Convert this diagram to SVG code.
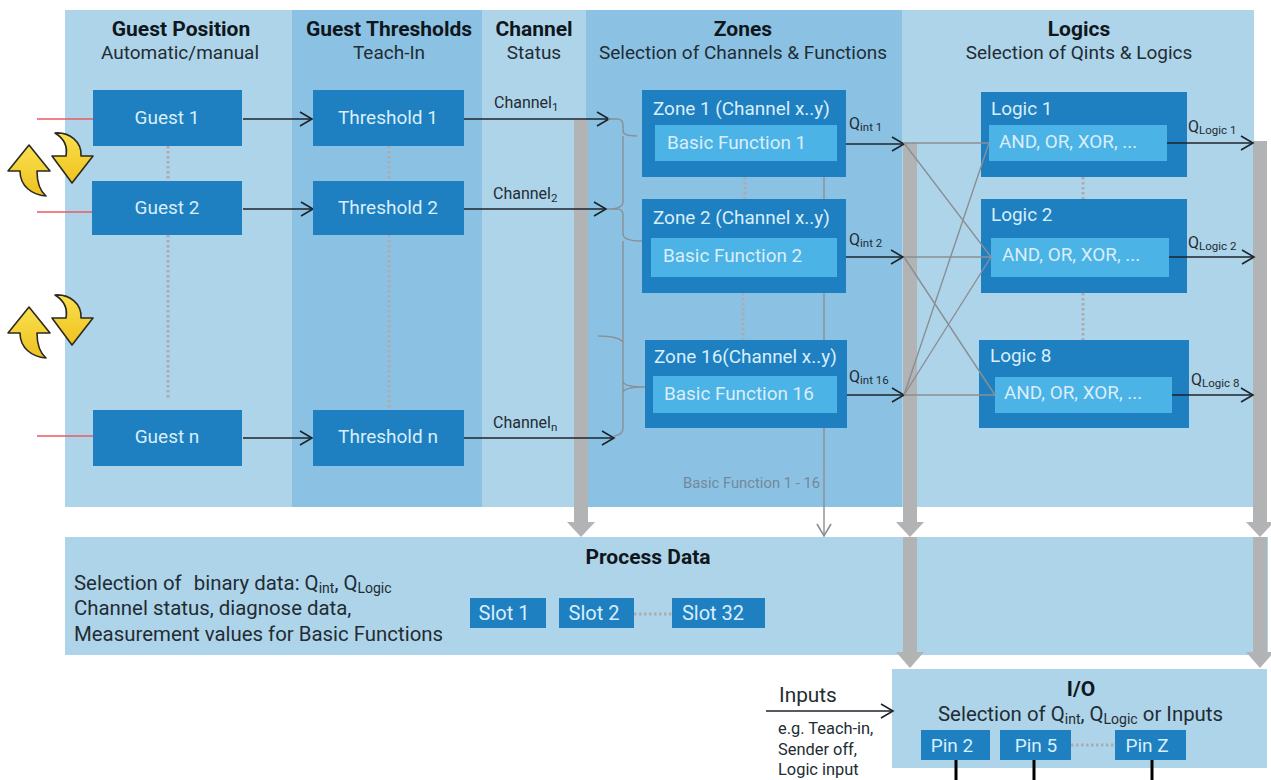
<svg xmlns="http://www.w3.org/2000/svg" xmlns:xlink="http://www.w3.org/1999/xlink" width="1271" height="780" viewBox="0 0 1271 780">
<style>
text{font-family:Roboto,"Open Sans",sans-serif;fill:#222c33}
.h{font-size:21px;font-weight:700;text-anchor:middle;fill:#10171c}
.s{font-size:19px;text-anchor:middle}
.n{fill:#1e80c1}
.i{fill:#4cb3e6}
.l{fill:#aed4ea}
.d{fill:#8bc2e4}
.w{fill:#d9eefa;font-size:18.9px}
.c{fill:#d9eefa;font-size:19px;text-anchor:middle}
.q{font-size:16px}
.sub{font-size:11.5px}
.m{font-size:20.4px}
.e{font-size:16.4px}
.a{fill:none;stroke:#1c242b;stroke-width:1.6;marker-end:url(#ah)}
.g{fill:none;stroke:#8a8f93;stroke-width:1.4}
.o{fill:none;stroke:#a9adb0;stroke-width:3;stroke-dasharray:2.5 2.5}
.r{stroke:#ea5a66;stroke-width:1.4}
.b{fill:#b2b3b4}
.y{fill:url(#yg);stroke:#2a2a22;stroke-width:1.6;stroke-linejoin:round}
.p{stroke:#000;stroke-width:3}
</style>
<defs>
<linearGradient id="yg" x1="0" y1="0" x2="0" y2="1"><stop offset="0" stop-color="#f9e04e"/><stop offset="1" stop-color="#efc21f"/></linearGradient>
<marker id="ah" markerUnits="userSpaceOnUse" markerWidth="16" markerHeight="18" refX="13" refY="9" orient="auto"><path d="M1,2 L13,9 L1,16" fill="none" stroke="#1c242b" stroke-width="1.6"/></marker>
<marker id="ag" markerUnits="userSpaceOnUse" markerWidth="16" markerHeight="18" refX="13" refY="9" orient="auto"><path d="M1,2 L13,9 L1,16" fill="none" stroke="#8a8f93" stroke-width="1.6"/></marker>
<g id="swap">
<path class="y" d="M55,133 C70,132 82,142 81,156 L93,156 L72,183 L52,156 L66,156 C68,146 63,138 55,133 Z"/>
<path class="y" d="M29,145 L50,171 L37,171 C37,182 40,191 46,196 C32,195 20,186 20,171 L8,171 Z"/>
</g>
</defs>
<rect width="1271" height="780" fill="#fff"/>
<g id="panels">
<rect class="l" x="65" y="10" width="228" height="497"/>
<rect class="d" x="292" y="10" width="191" height="497"/>
<rect class="l" x="482" y="10" width="105" height="497"/>
<rect class="d" x="586" y="10" width="317" height="497"/>
<rect class="l" x="902" y="10" width="352" height="497"/>
<rect id="process-data-panel" class="l" x="65" y="537" width="1203" height="118"/>
<rect id="io-panel" class="l" x="892" y="669" width="375" height="99"/>
</g>
<g id="headers">
<text class="h" x="181" y="36">Guest Position</text><text class="s" x="180" y="59">Automatic/manual</text>
<text class="h" x="389" y="36">Guest Thresholds</text><text class="s" x="389" y="59">Teach-In</text>
<text class="h" x="534" y="36">Channel</text><text class="s" x="534" y="59">Status</text>
<text class="h" x="743" y="36">Zones</text><text class="s" x="743" y="59">Selection of Channels &amp; Functions</text>
<text class="h" x="1079" y="36">Logics</text><text class="s" x="1079" y="59">Selection of Qints &amp; Logics</text>
</g>
<g id="bars">
<path class="b" d="M574,120H588V522H595L581,537L567,522H574Z"/>
<path class="b" d="M903,143H917V522H924L910,537L896,522H903Z"/>
<path class="b" d="M903,537H917V652H924L910,668L896,652H903Z"/>
<path class="b" d="M1253,141H1267V522H1274L1260,537L1246,522H1253Z"/>
<path class="b" d="M1253,537H1267V652H1274L1260,668L1246,652H1253Z"/>
</g>
<g id="connectors">
<path class="r" d="M37,119H94M37,212H93M37,436H94"/>
<path class="o" d="M168,146V181M168,235V399M389,146V181M389,235V410M745,177V199M743,293V340M1083,177V199M1083,293V340M634,614H672M1071,745H1115"/>
<path class="a" d="M243,119H312"/><path class="a" d="M243,209H313"/><path class="a" d="M243,438H312"/>
<path class="a" d="M464,119H609"/><path class="a" d="M464,209H606"/><path class="a" d="M464,438H614"/>
<path class="a" d="M837,144H904"/><path class="a" d="M837,257H903"/><path class="a" d="M837,395H904"/>
<path class="a" d="M766,711H893"/>
<path class="g" d="M608,119H617Q623,119 623,125V131Q623,136 637,136M623,136V202Q623,209 607,209M607,209H617Q623,209 623,215V234Q623,241 642,241M623,241V428Q623,435 614,436M598,336Q618,336 623,342M623,381Q623,387 645,387Q623,387 623,393"/>
<path d="M824,177V536" fill="none" stroke="#8a8f93" stroke-width="1.4" marker-end="url(#ag)"/>
</g>
<g id="guest-1"><rect class="n" x="93" y="90" width="149" height="56"/><text class="c" x="167" y="124">Guest 1</text></g>
<g id="guest-2"><rect class="n" x="92" y="181" width="150" height="54"/><text class="c" x="167" y="214">Guest 2</text></g>
<g id="guest-n"><rect class="n" x="93" y="410" width="149" height="56"/><text class="c" x="167" y="443">Guest n</text></g>
<g id="threshold-1"><rect class="n" x="313" y="90" width="151" height="56"/><text class="c" x="388" y="124">Threshold 1</text></g>
<g id="threshold-2"><rect class="n" x="313" y="181" width="151" height="54"/><text class="c" x="388" y="214">Threshold 2</text></g>
<g id="threshold-n"><rect class="n" x="313" y="410" width="151" height="56"/><text class="c" x="388" y="443">Threshold n</text></g>
<g id="zone-1"><rect class="n" x="642" y="90" width="204" height="87"/><text class="w" x="653" y="115">Zone 1 (Channel x..y)</text><rect class="i" x="655" y="125" width="182" height="36"/><text class="w" x="667" y="149">Basic Function 1</text></g>
<g id="zone-2"><rect class="n" x="642" y="199" width="204" height="94"/><text class="w" x="653" y="224">Zone 2 (Channel x..y)</text><rect class="i" x="651" y="238" width="186" height="39"/><text class="w" x="663" y="262">Basic Function 2</text></g>
<g id="zone-16"><rect class="n" x="645" y="340" width="202" height="88"/><text class="w" x="654" y="363">Zone 16(Channel x..y)</text><rect class="i" x="653" y="376" width="184" height="37"/><text class="w" x="664" y="400">Basic Function 16</text></g>
<g id="logic-1"><rect class="n" x="981" y="92" width="206" height="85"/><text class="w" x="991" y="115">Logic 1</text><rect class="i" x="989" y="125" width="178" height="36"/><text class="w" x="999" y="148">AND, OR, XOR, ...</text></g>
<g id="logic-2"><rect class="n" x="981" y="199" width="206" height="94"/><text class="w" x="991" y="221">Logic 2</text><rect class="i" x="991" y="238" width="178" height="39"/><text class="w" x="1002" y="261">AND, OR, XOR, ...</text></g>
<g id="logic-8"><rect class="n" x="979" y="340" width="210" height="88"/><text class="w" x="990" y="362">Logic 8</text><rect class="i" x="995" y="377" width="177" height="36"/><text class="w" x="1004" y="399">AND, OR, XOR, ...</text></g>
<g id="logic-links">
<path class="g" d="M904,143H989M904,143L991,257M904,257H991M904,257L995,395M904,395H995M904,395L989,143M904,395L991,257"/>
<path class="a" d="M1167,143H1253"/><path class="a" d="M1169,257H1254"/><path class="a" d="M1172,395H1253"/>
</g>
<g id="labels">
<text x="494" y="108" font-size="16">Channel<tspan class="sub" dy="3">1</tspan></text>
<text x="493" y="199" font-size="16">Channel<tspan class="sub" dy="3">2</tspan></text>
<text x="493" y="428" font-size="16">Channel<tspan class="sub" dy="3">n</tspan></text>
<text class="q" x="849" y="129">Q<tspan class="sub" dy="2">int 1</tspan></text>
<text class="q" x="849" y="245">Q<tspan class="sub" dy="2">int 2</tspan></text>
<text class="q" x="849" y="382">Q<tspan class="sub" dy="2">int 16</tspan></text>
<text class="q" x="1188" y="132">Q<tspan class="sub" dy="2">Logic 1</tspan></text>
<text class="q" x="1188" y="248">Q<tspan class="sub" dy="2">Logic 2</tspan></text>
<text class="q" x="1191" y="385">Q<tspan class="sub" dy="2">Logic 8</tspan></text>
<text x="683" y="488" font-size="14.8" style="fill:#74889a">Basic Function 1 - 16</text>
</g>
<g id="arrows-swap-1"><use xlink:href="#swap" href="#swap"/></g>
<g id="arrows-swap-2"><use xlink:href="#swap" href="#swap" y="162"/></g>
<g id="process-data">
<text class="h" x="648" y="564">Process Data</text>
<text class="m" x="74" y="590">Selection of <tspan dx="7">binary data: Q</tspan><tspan font-size="14" dy="3">int</tspan><tspan dy="-3">, Q</tspan><tspan font-size="14" dy="3">Logic</tspan></text>
<text class="m" x="74" y="615">Channel status, diagnose data,</text>
<text class="m" x="74" y="641">Measurement values for Basic Functions</text>
</g>
<g id="slot-1"><rect class="n" x="470" y="598" width="76" height="30"/><text class="c" x="504" y="620" style="font-size:20px">Slot 1</text></g>
<g id="slot-2"><rect class="n" x="559" y="598" width="75" height="30"/><text class="c" x="594" y="620" style="font-size:20px">Slot 2</text></g>
<g id="slot-32"><rect class="n" x="672" y="598" width="93" height="30"/><text class="c" x="713" y="620" style="font-size:20px">Slot 32</text></g>
<g id="inputs">
<text x="779" y="702" font-size="20.8">Inputs</text>
<text class="e" x="778" y="734">e.g. Teach-in,</text>
<text class="e" x="778" y="755">Sender off,</text>
<text class="e" x="778" y="775">Logic input</text>
</g>
<g id="io">
<text class="h" x="1081" y="696">I/O</text>
<text class="m" x="938" y="721">Selection of Q<tspan font-size="14" dy="3">int</tspan><tspan dy="-3">, Q</tspan><tspan font-size="14" dy="3">Logic</tspan><tspan dy="-3"> or Inputs</tspan></text>
</g>
<g id="pin-2"><rect class="n" x="921" y="730" width="69" height="30"/><text class="c" x="952" y="752">Pin 2</text></g>
<g id="pin-5"><rect class="n" x="1000" y="730" width="71" height="30"/><text class="c" x="1036" y="752">Pin 5</text></g>
<g id="pin-z"><rect class="n" x="1115" y="730" width="71" height="30"/><text class="c" x="1147" y="752">Pin Z</text></g>
<path class="p" d="M956,760V780M1034,760V780M1152,760V780"/>
</svg>
